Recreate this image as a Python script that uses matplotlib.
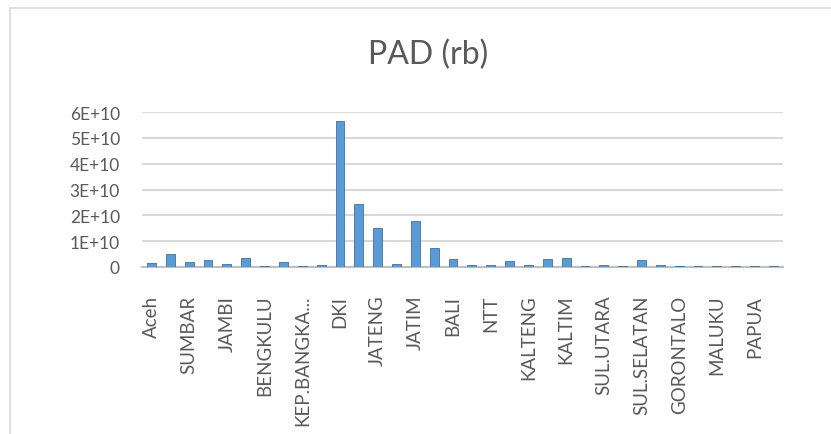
import matplotlib
matplotlib.use("Agg")
import matplotlib.pyplot as plt
from matplotlib.patches import Rectangle
import numpy as np

provinces = ["Aceh", "SUMUT", "SUMBAR", "RIAU", "JAMBI", "SUMSEL", "BENGKULU",
             "LAMPUNG", "KEP.BANGKA...", "KEPRI", "DKI", "JABAR", "JATENG", "DIY",
             "JATIM", "BANTEN", "BALI", "NTB", "NTT", "KALBAR", "KALTENG", "KALSEL",
             "KALTIM", "KALTARA", "SUL.UTARA", "SUL.TENGAH", "SUL.SELATAN",
             "SUL.TENGGARA", "GORONTALO", "SUL.BARAT", "MALUKU", "MALUKU UTARA",
             "PAPUA", "PAPUA BARAT"]
pad = [1.5e9, 5.0e9, 2.0e9, 2.6e9, 1.2e9, 3.3e9, 0.5e9,
       2.1e9, 0.4e9, 0.7e9, 5.67e10, 2.44e10, 1.51e10, 1.3e9,
       1.77e10, 7.4e9, 3.0e9, 0.9e9, 0.9e9, 2.2e9, 0.9e9, 3.2e9,
       3.6e9, 0.2e9, 0.7e9, 0.5e9, 2.8e9,
       0.7e9, 0.2e9, 0.2e9, 0.3e9, 0.2e9,
       0.2e9, 0.2e9]
yticks = [0, 1e10, 2e10, 3e10, 4e10, 5e10, 6e10]
ytick_labels = ["0", "1E+10", "2E+10", "3E+10", "4E+10", "5E+10", "6E+10"]

plt.rcParams['font.family'] = ['Lato', 'DejaVu Sans']
text_color = "#595959"

fig = plt.figure(figsize=(8.31, 4.35), dpi=100)
ax = fig.add_axes([0.171, 0.384, 0.771, 0.356])

# chart border like the office chart frame
fig.patches.append(Rectangle((10 / 831, -0.01), 1.0, (435 - 9) / 435 + 0.01,
                             transform=fig.transFigure, fill=False,
                             edgecolor="#D9D9D9", linewidth=1.2))

x = np.arange(len(provinces))
ax.bar(x, pad, width=0.47, color="#5B9BD5", edgecolor="#41719C",
       linewidth=0.6, zorder=3)

ax.set_xlim(-0.5, len(provinces) - 0.5)
ax.set_ylim(0, 6e10)
ax.set_yticks(yticks)
ax.set_yticklabels(ytick_labels, fontsize=12.5, color=text_color)
ax.yaxis.grid(True, color="#D9D9D9", linewidth=1.5, zorder=0)
ax.set_axisbelow(True)

ax.set_xticks(x[::2])
ax.set_xticklabels(provinces[::2], rotation=90, fontsize=13.5, color=text_color)
ax.tick_params(axis="both", length=0)
ax.tick_params(axis="x", pad=20)
ax.tick_params(axis="y", pad=16)

for side in ["top", "right", "left"]:
    ax.spines[side].set_visible(False)
ax.spines["bottom"].set_color("#BFBFBF")
ax.spines["bottom"].set_linewidth(1.5)

fig.text(0.515, 0.873, "PAD (rb)", ha="center", va="center", fontsize=23,
         color=text_color)

fig.savefig("out.png", dpi=100)
